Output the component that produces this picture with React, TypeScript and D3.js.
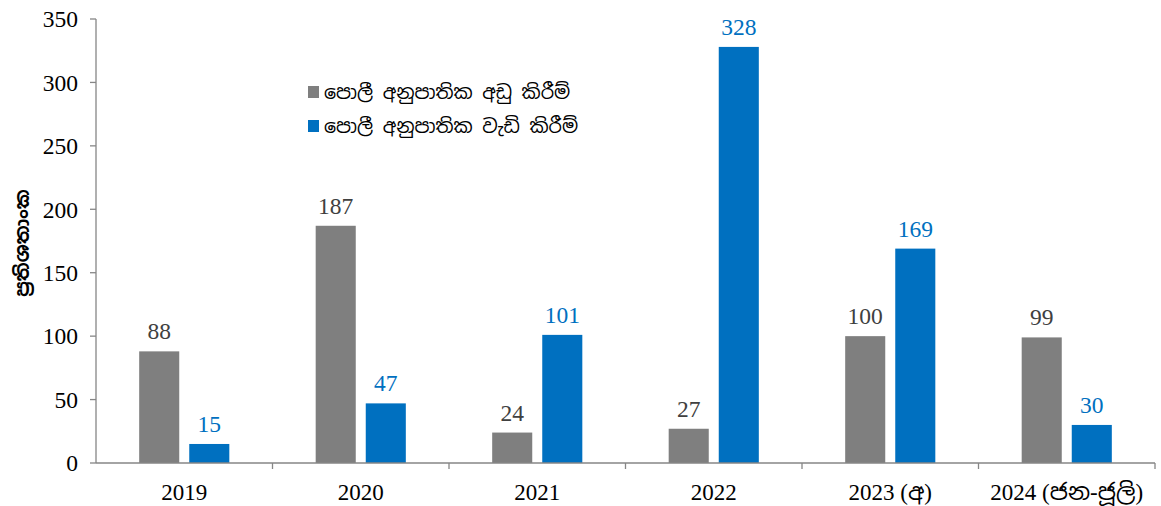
import React from 'react'
import * as d3 from 'd3'

const categories = ['2019', '2020', '2021', '2022', '2023 (අ)', '2024 (ජන-ජූලි)']
const cuts = [88, 187, 24, 27, 100, 99]
const hikes = [15, 47, 101, 328, 169, 30]
const seriesNames = ['පොලී අනුපාතික අඩු කිරීම්', 'පොලී අනුපාතික වැඩි කිරීම්']
const yTicks = [0, 50, 100, 150, 200, 250, 300, 350]

const W = 1161
const H = 506
const margin = { left: 96, right: 6, top: 19, bottom: 43 }
const grey = '#7f7f7f'
const blue = '#0070c0'
const serif = '"Liberation Serif", "Times New Roman", serif'
const sinhala = '"Noto Sans Sinhala", "Iskoola Pota", "Noto Serif Sinhala", sans-serif'

export default function App() {
  const x = d3.scaleBand<string>()
    .domain(categories)
    .range([margin.left, W - margin.right])
  const y = d3.scaleLinear()
    .domain([0, 350])
    .range([H - margin.bottom, margin.top])

  const bw = x.bandwidth() * 0.227
  const gap = 10
  const series = [
    { values: cuts, color: grey, label: '#404040', off: -gap / 2 - bw },
    { values: hikes, color: blue, label: blue, off: gap / 2 },
  ]
  const axisColor = '#868686'
  const y0 = y(0)

  return (
    <svg width={W} height={H} style={{ position: 'absolute', left: 0, top: 0 }}>
      <rect width={W} height={H} fill="#fff" />
      {series.map((s, si) =>
        categories.map((c, i) => {
          const cx = (x(c) as number) + x.bandwidth() / 2
          const v = s.values[i]
          return (
            <g key={si + '-' + i}>
              <rect x={cx + s.off} y={y(v)} width={bw} height={y0 - y(v)} fill={s.color} />
              <text x={cx + s.off + bw / 2} y={y(v) - 12} textAnchor="middle"
                fontFamily={serif} fontSize={23.5} fill={s.label}>{v}</text>
            </g>
          )
        })
      )}
      {/* y axis */}
      <line x1={margin.left} x2={margin.left} y1={y(350)} y2={y0} stroke={axisColor} strokeWidth={1.3} />
      {yTicks.map(t => (
        <g key={t}>
          <line x1={margin.left - 6} x2={margin.left} y1={y(t)} y2={y(t)} stroke={axisColor} strokeWidth={1.3} />
          <text x={margin.left - 18} y={y(t)} dy="0.35em" textAnchor="end"
            fontFamily={serif} fontSize={23.5} fill="#000">{t}</text>
        </g>
      ))}
      {/* x axis */}
      <line x1={margin.left} x2={W - margin.right} y1={y0} y2={y0} stroke={axisColor} strokeWidth={1.3} />
      {categories.map((c, i) => (
        <g key={c}>
          <line x1={(x(c) as number) + x.bandwidth()} x2={(x(c) as number) + x.bandwidth()}
            y1={y0} y2={y0 + 6} stroke={axisColor} strokeWidth={1.3} />
          <text x={(x(c) as number) + x.bandwidth() / 2} y={500} textAnchor="middle"
            fontFamily={`${serif.split(',')[0]}, ${sinhala}`} fontSize={23} fill="#000">{c}</text>
        </g>
      ))}
      <text transform={`translate(29, ${243}) rotate(-90)`} textAnchor="middle"
        fontFamily={sinhala} fontWeight="bold" fontSize={19} fill="#000">ප්‍රතිශතාංක</text>
      {/* legend */}
      {seriesNames.map((n, i) => (
        <g key={n} transform={`translate(308, ${92 + i * 34})`}>
          <rect x={0} y={-6} width={11} height={12} fill={i === 0 ? grey : blue} />
          <text x={16} y={0} dy="0.35em" fontFamily={sinhala} fontSize={19} fill="#000">{n}</text>
        </g>
      ))}
    </svg>
  )
}
